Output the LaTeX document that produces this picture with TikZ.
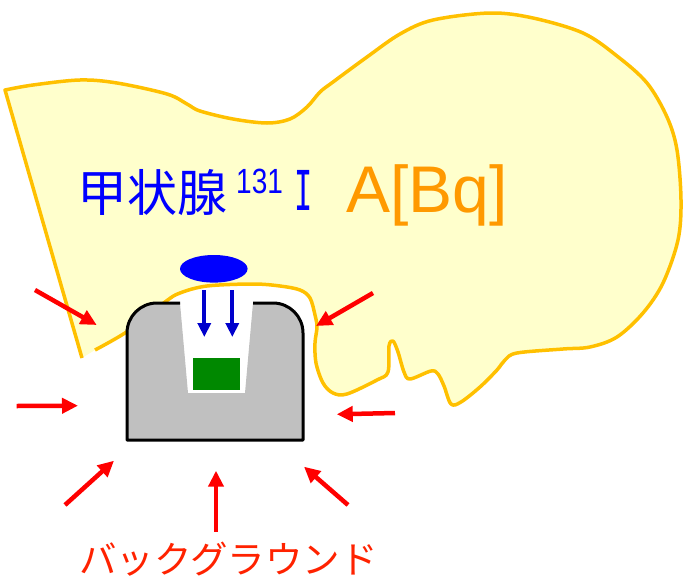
\documentclass[tikz,border=0pt]{standalone}
\usepackage{fontspec}
\setmainfont{Liberation Sans}
\newfontfamily\jpfont{Noto Sans CJK JP}
\newfontfamily\slabmono{DejaVu Sans Mono}
\usetikzlibrary{arrows.meta,shapes.geometric}
\definecolor{thyfill}{HTML}{FFFFCC}
\definecolor{thyline}{HTML}{FFC000}
\definecolor{detgray}{HTML}{C0C0C0}
\definecolor{crystal}{HTML}{008800}
\definecolor{srcblue}{HTML}{0000FF}
\definecolor{rayblue}{HTML}{0000CC}
\definecolor{bgred}{HTML}{FF0000}
\definecolor{bgtext}{HTML}{FF2200}
\definecolor{actorange}{HTML}{FF9900}
\tikzset{
  thyroid/.style={draw=thyline, fill=thyfill, line width=3.5pt, line join=round},
  detbody/.style={fill=detgray},
  detedge/.style={draw=black, line width=3pt, line join=round},
  bgray/.style={draw=bgred, line width=4.5pt, -{Triangle[length=16pt,width=15pt]}},
  gammaray/.style={draw=rayblue, line width=4pt, -{Triangle[length=14pt,width=13pt]}},
  txt/.style={inner sep=0pt, anchor=base west},
}
\begin{document}
\begin{tikzpicture}[x=1pt,y=-1pt]
\useasboundingbox (0,0) rectangle (683,581);

% thyroid outline (the open stroke leaves a gap at the lower left)
\draw[thyroid] (82,358) -- (5,90) -- plot[smooth, tension=0.55] coordinates {
  (5,90) (33,85) (80,80) (117,83) (167,94) (187,104) (200,111) (233,119)
  (267,123) (290,119) (307,107) (320,92) (333,82) (367,57) (400,34) (433,20)
  (490,13) (533,18) (583,33) (617,56) (647,83) (667,117) (677,150) (681,200)
  (678,240) (663,283) (643,313) (617,337) (590,347) (563,349) (517,353)
  (505,360) (497,370) (480,387) (461,402) (451,404) (444,386) (438,374)
  (431,371) (410,379) (404,372) (398,352) (393,341) (389,346) (388,372)
  (377,380) (347,394) (333,393) (323,383) (316,363) (315,343) (317,327)
  (315,315) (310,298) (300,290) (280,286) (253,284) (207,286) (180,293)
  (165,302) (128,331) (95,350)};

% detector body with its well
\fill[detbody] (180,303) -- (157,303) .. controls (140.4,303) and (127,316.4) .. (127,333)
  -- (127,440) -- (303,440) -- (303,333) .. controls (303,316.4) and (289.6,303) .. (273,303)
  -- (253,303) -- (245,393) -- (188,393) -- cycle;
\draw[detedge] (180,303) -- (157,303) .. controls (140.4,303) and (127,316.4) .. (127,333)
  -- (127,440) -- (303,440) -- (303,333) .. controls (303,316.4) and (289.6,303) .. (273,303)
  -- (253,303);

% crystal
\node[fill=crystal, inner sep=0pt, minimum width=47pt, minimum height=32pt] (xtal) at (216.7,374.2) {};

% source and its gamma rays
\node[ellipse, fill=srcblue, inner sep=0pt, minimum width=67.6pt, minimum height=27.6pt] (src) at (213.8,268.8) {};
\coordinate (g1s) at (204.3,290); \coordinate (g1e) at (204.3,337);
\coordinate (g2s) at (232.3,290); \coordinate (g2e) at (232.3,337);
\draw[gammaray] (g1s) -- (g1e);
\draw[gammaray] (g2s) -- (g2e);

% background radiation
\coordinate (b1s) at (35,290);    \coordinate (b1e) at (96.7,325);
\coordinate (b2s) at (16.7,406);  \coordinate (b2e) at (78,405.7);
\coordinate (b3s) at (65,505);    \coordinate (b3e) at (114,460.7);
\coordinate (b4s) at (216,531.7); \coordinate (b4e) at (216,470.7);
\coordinate (b5s) at (348,505);   \coordinate (b5e) at (304,466.7);
\coordinate (b6s) at (395,413);   \coordinate (b6e) at (336.7,414.3);
\coordinate (b7s) at (373,293);   \coordinate (b7e) at (316,326);
\foreach \k in {1,...,7} \draw[bgray] (b\k s) -- (b\k e);

% labels
\node[txt, text=srcblue] (organ) at (77,211) {\fontsize{50}{54}\jpfont\selectfont 甲状腺};
\node[txt, text=srcblue] (mass) at (236,193) {\scalebox{0.8}[1]{\fontsize{35}{38}\selectfont 131}};
\node[txt, text=srcblue] (iod) at (294,210) {\scalebox{0.55}[1]{\fontsize{55}{60}\slabmono\selectfont I}};
\node[txt, text=actorange] (act) at (346,212) {\fontsize{66}{72}\selectfont A[Bq]};
\node[txt, text=bgtext] (bg) at (79,573) {\fontsize{37.5}{42}\jpfont\selectfont バックグラウンド};
\end{tikzpicture}
\end{document}
